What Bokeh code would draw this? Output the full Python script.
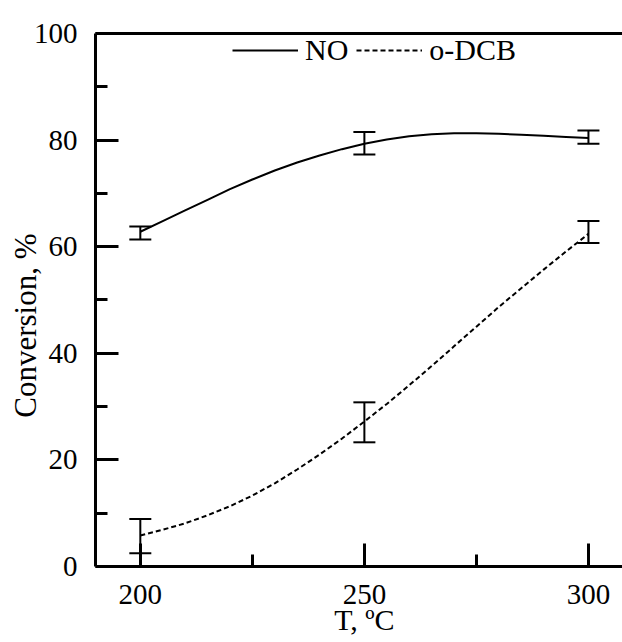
from bokeh.plotting import figure
from bokeh.models import (Range1d, FixedTicker, LinearAxis, Whisker, TeeHead,
                          ColumnDataSource, Legend, LegendItem, Label)
from bokeh.embed import file_html
from bokeh.resources import INLINE

# ---- data ----
temps = [200, 250, 300]
no_mean = [62.6, 79.4, 80.5]
no_low = [61.35, 77.3, 79.3]
no_high = [63.8, 81.5, 81.8]
dcb_mean = [5.7, 27.0, 62.6]
dcb_low = [2.5, 23.3, 60.7]
dcb_high = [8.9, 30.8, 64.8]

# fitted curves
curve_t = [200, 205, 210, 215, 220, 225, 230, 235, 240, 245, 250,
           255, 260, 265, 270, 275, 280, 285, 290, 295, 300]
no_curve = [62.8, 64.8, 66.8, 68.8, 70.8, 72.6, 74.3, 75.8, 77.1, 78.3, 79.3,
            80.1, 80.7, 81.1, 81.3, 81.3, 81.2, 81.0, 80.8, 80.6, 80.4]
dcb_curve = [5.8, 6.9, 8.1, 9.6, 11.3, 13.3, 15.6, 18.2, 21.0, 24.0, 27.2,
             30.5, 34.0, 37.6, 41.3, 45.0, 48.7, 52.2, 55.7, 59.1, 62.4]

x_major = [200, 250, 300]
x_minor = [225, 275]
y_major = [0, 20, 40, 60, 80, 100]
y_minor = [10, 30, 50, 70, 90]
x_lo, x_hi = 190, 307.6
y_lo, y_hi = 0, 100

FONT = "Liberation Serif"

# the frame fills the whole canvas; axes are drawn at fixed data locations
p = figure(width=622, height=642, output_backend="svg", toolbar_location=None,
           x_range=Range1d(168.8, 307.6), y_range=Range1d(-14.26, 106.19),
           x_axis_location=None, y_axis_location=None,
           min_border_left=0, min_border_right=0, min_border_top=0,
           min_border_bottom=0)
p.grid.visible = False
p.outline_line_color = None
p.background_fill_color = "white"


def style(ax):
    ax.axis_line_width = 3
    ax.axis_line_color = "black"
    ax.major_tick_line_width = 3
    ax.minor_tick_line_width = 3
    ax.major_tick_in = 23
    ax.major_tick_out = 0
    ax.minor_tick_in = 12
    ax.minor_tick_out = 0
    ax.major_label_text_font = FONT
    ax.major_label_text_font_size = "29px"
    ax.major_label_text_color = "black"


xax = LinearAxis(fixed_location=y_lo, bounds=(x_lo, x_hi),
                 ticker=FixedTicker(ticks=x_major, minor_ticks=x_minor),
                 major_label_standoff=19)
style(xax)
p.add_layout(xax, "below")

yax = LinearAxis(fixed_location=x_lo, bounds=(y_lo, y_hi),
                 ticker=FixedTicker(ticks=y_major, minor_ticks=y_minor),
                 major_label_standoff=18)
style(yax)
p.add_layout(yax, "left")

top = LinearAxis(fixed_location=y_hi, bounds=(x_lo, x_hi),
                 ticker=FixedTicker(ticks=[]), axis_line_width=3,
                 major_tick_line_color=None, minor_tick_line_color=None,
                 major_label_text_font_size="0px")
p.add_layout(top, "above")

r_no = p.line(curve_t, no_curve, line_color="black", line_width=2)
r_dcb = p.line(curve_t, dcb_curve, line_color="black", line_width=2,
               line_dash="5 3")

for low, high in ((no_low, no_high), (dcb_low, dcb_high)):
    src = ColumnDataSource(dict(x=temps, lo=low, hi=high))
    w = Whisker(source=src, base="x", lower="lo", upper="hi",
                line_color="black", line_width=2,
                upper_head=TeeHead(size=22, line_width=2, line_color="black"),
                lower_head=TeeHead(size=22, line_width=2, line_color="black"))
    p.add_layout(w)

legend = Legend(items=[LegendItem(label="NO", renderers=[r_no]),
                       LegendItem(label="o-DCB", renderers=[r_dcb])],
                orientation="horizontal", location=(232, 575),
                glyph_width=66, glyph_height=30, label_height=30,
                label_standoff=7, spacing=8, padding=0, margin=0,
                border_line_color=None, background_fill_alpha=0,
                label_text_font=FONT, label_text_font_size="30px",
                label_text_color="black")
p.add_layout(legend)

p.add_layout(Label(x=174.4, y=45.2, text="Conversion, %", angle=1.5708,
                   text_align="center", text_baseline="middle",
                   text_font=FONT, text_font_size="31px", text_color="black"))
p.add_layout(Label(x=250, y=-6.9, text="T, ºC",
                   text_align="center", text_baseline="top",
                   text_font=FONT, text_font_size="30px", text_color="black"))

open("out.html", "w").write(file_html(p, INLINE))
